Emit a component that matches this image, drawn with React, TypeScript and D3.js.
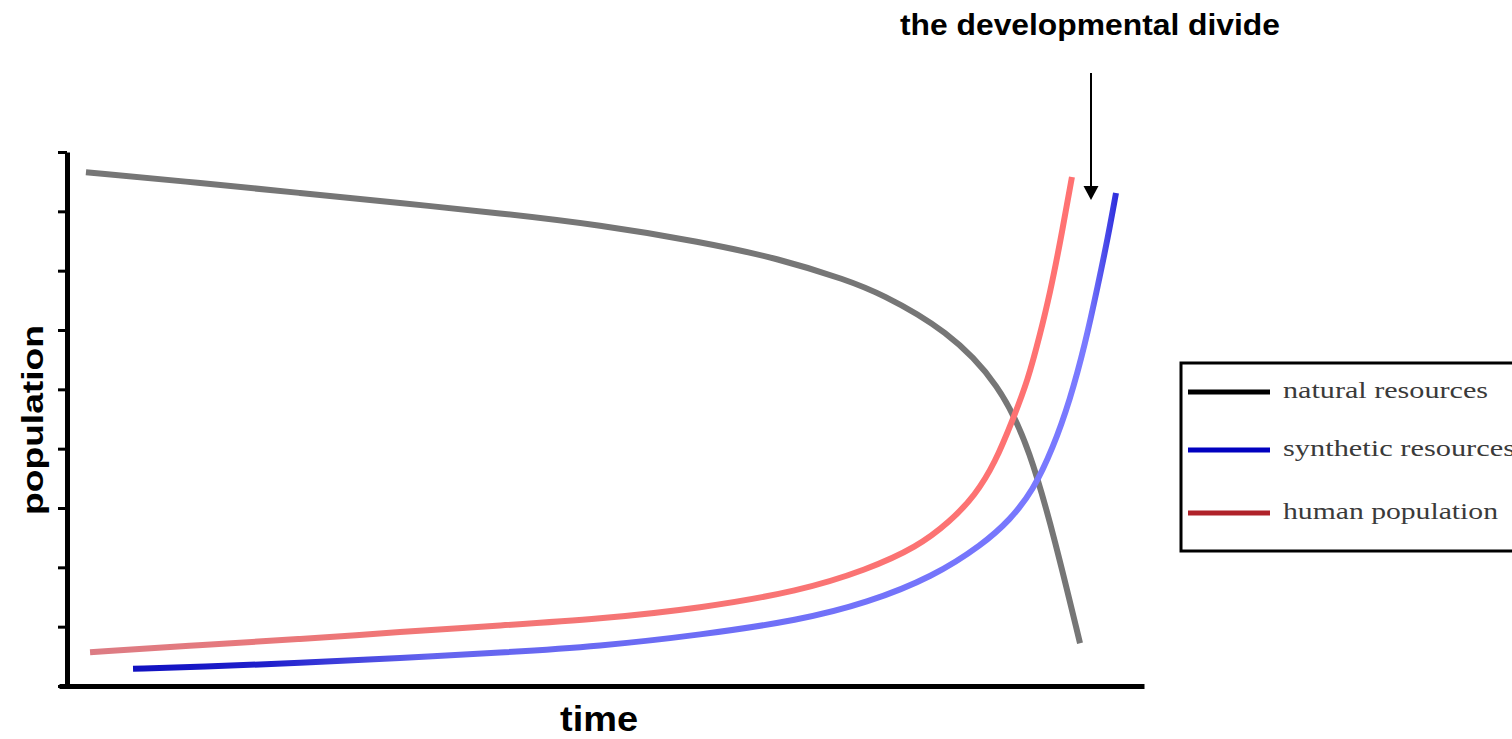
import * as React from 'react';
import * as d3 from 'd3';

// values: x = time (0-100), y = population (0-9 tick units)
const naturalResources: [number, number][] = [
  [1.76, 8.66], [12.35, 8.48], [21.63, 8.31], [30.92, 8.14], [40.2, 7.97], [49.49, 7.77],
  [58.77, 7.49], [66.2, 7.2], [72.42, 6.84], [75.49, 6.62], [81.71, 6.0], [86.63, 5.08],
  [89.42, 3.98], [91.74, 2.46], [94.06, 0.72],
];
const humanPopulation: [number, number][] = [
  [2.14, 0.57], [12.35, 0.69], [21.63, 0.79], [30.92, 0.91], [40.2, 1.02], [49.49, 1.13],
  [58.77, 1.31], [68.06, 1.6], [74.28, 1.96], [78.92, 2.34], [81.99, 2.77], [84.31, 3.21],
  [86.17, 3.76], [87.84, 4.5], [89.23, 5.16], [90.34, 5.92], [91.27, 6.62], [92.2, 7.46], [93.31, 8.58],
];
const syntheticResources: [number, number][] = [
  [6.13, 0.29], [12.35, 0.32], [21.63, 0.39], [30.92, 0.47], [40.2, 0.56], [49.49, 0.67],
  [58.77, 0.86], [68.06, 1.11], [74.28, 1.4], [80.41, 1.84], [85.05, 2.39], [87.56, 2.8],
  [89.69, 3.29], [91.55, 4.01], [93.13, 4.82], [94.52, 5.75], [95.73, 6.76], [96.66, 7.57],
  [97.4, 8.31],
];
const yTicks = [0, 1, 2, 3, 4, 5, 6, 7, 8, 9];
const legendItems = [
  { name: 'natural resources', color: '#000000' },
  { name: 'synthetic resources', color: '#0000c0' },
  { name: 'human population', color: '#b0222a' },
];

const W = 1512;
const H = 739;

export default function App() {
  const ref = React.useRef<SVGSVGElement>(null);

  React.useEffect(() => {
    document.body.style.margin = '0';
    const el = ref.current;
    if (!el) { return; }
    el.innerHTML = '';
    const svg = d3.select(el);

    const x = d3.scaleLinear().domain([0, 100]).range([67, 1144]);
    const y = d3.scaleLinear().domain([0, 9]).range([686, 152]);

    const defs = svg.append('defs');
    const blueGrad = defs.append('linearGradient')
      .attr('id', 'blueGrad').attr('gradientUnits', 'userSpaceOnUse')
      .attr('x1', x(6.13)).attr('x2', x(97.4)).attr('y1', 0).attr('y2', 0);
    [[0, '#1010c0'], [0.14, '#2020cc'], [0.3, '#6464ee'], [0.97, '#7a7aff'], [1, '#3030dd']].forEach(([o, c]) =>
      blueGrad.append('stop').attr('offset', o as number).attr('stop-color', c as string));
    const redGrad = defs.append('linearGradient')
      .attr('id', 'redGrad').attr('gradientUnits', 'userSpaceOnUse')
      .attr('x1', x(2.14)).attr('x2', x(93.31)).attr('y1', 0).attr('y2', 0);
    [[0, '#dc7c84'], [0.3, '#f07676'], [1, '#ff7272']].forEach(([o, c]) =>
      redGrad.append('stop').attr('offset', o as number).attr('stop-color', c as string));

    const line = d3.line<[number, number]>()
      .x(d => x(d[0]))
      .y(d => y(d[1]))
      .curve(d3.curveBasis);

    // curves
    svg.append('path').datum(naturalResources)
      .attr('d', line).attr('fill', 'none').attr('stroke', '#767676').attr('stroke-width', 6);
    svg.append('path').datum(humanPopulation)
      .attr('d', line).attr('fill', 'none').attr('stroke', 'url(#redGrad)').attr('stroke-width', 6);
    svg.append('path').datum(syntheticResources)
      .attr('d', line).attr('fill', 'none').attr('stroke', 'url(#blueGrad)').attr('stroke-width', 6);

    // axes
    const yAxis = svg.append('g')
      .attr('transform', `translate(${x(0)},0)`)
      .call(d3.axisLeft(y).tickValues(yTicks).tickSize(9).tickSizeOuter(0).tickFormat(() => ''));
    yAxis.selectAll('path').attr('stroke', '#000').attr('stroke-width', 5);
    yAxis.selectAll('line').attr('stroke', '#000').attr('stroke-width', 3);

    const xAxis = svg.append('g')
      .attr('transform', `translate(0,${y(0)})`)
      .call(d3.axisBottom(d3.scaleLinear().domain([0, 1]).range([59, x(100)])).tickValues([]).tickSizeOuter(0));
    xAxis.selectAll('path').attr('stroke', '#000').attr('stroke-width', 5);

    // axis titles
    svg.append('text')
      .attr('transform', 'translate(43,420) rotate(-90)')
      .attr('text-anchor', 'middle')
      .attr('font-family', 'Arial, "Liberation Sans", sans-serif')
      .attr('font-weight', 'bold').attr('font-size', 30)
      .attr('textLength', 190).attr('lengthAdjust', 'spacingAndGlyphs')
      .text('population');
    svg.append('text')
      .attr('x', 599).attr('y', 731)
      .attr('text-anchor', 'middle')
      .attr('font-family', 'Arial, "Liberation Sans", sans-serif')
      .attr('font-weight', 'bold').attr('font-size', 35)
      .attr('textLength', 78).attr('lengthAdjust', 'spacingAndGlyphs')
      .text('time');

    // annotation
    svg.append('text')
      .attr('x', 1090).attr('y', 35)
      .attr('text-anchor', 'middle')
      .attr('font-family', 'Arial, "Liberation Sans", sans-serif')
      .attr('font-weight', 'bold').attr('font-size', 29)
      .attr('textLength', 380).attr('lengthAdjust', 'spacingAndGlyphs')
      .text('the developmental divide');
    svg.append('line')
      .attr('x1', 1091).attr('x2', 1091).attr('y1', 73).attr('y2', 188)
      .attr('stroke', '#000').attr('stroke-width', 2);
    svg.append('path')
      .attr('d', 'M1083.5,186 L1098.5,186 L1091,200 Z')
      .attr('fill', '#000');

    // legend
    const legend = svg.append('g');
    legend.append('rect')
      .attr('x', 1181).attr('y', 363).attr('width', 340).attr('height', 188)
      .attr('fill', '#fff').attr('stroke', '#000').attr('stroke-width', 3);
    const rowY = [392, 450, 513];
    const textLen = [205, 232, 215];
    const rows = legend.selectAll('g.row').data(legendItems).enter().append('g')
      .attr('class', 'row')
      .attr('transform', (_, i) => `translate(0,${rowY[i]})`);
    rows.append('line')
      .attr('x1', 1188).attr('x2', 1270).attr('y1', 0).attr('y2', 0)
      .attr('stroke', d => d.color).attr('stroke-width', 5);
    rows.append('text')
      .attr('x', 1283).attr('y', 6)
      .attr('font-family', '"Liberation Serif", "Times New Roman", serif')
      .attr('font-size', 24).attr('fill', '#3a3a3a')
      .attr('textLength', (_, i) => textLen[i]).attr('lengthAdjust', 'spacingAndGlyphs')
      .text(d => d.name);
  }, []);

  return <svg ref={ref} width={W} height={H} style={{ display: 'block', background: '#fff' }} />;
}
